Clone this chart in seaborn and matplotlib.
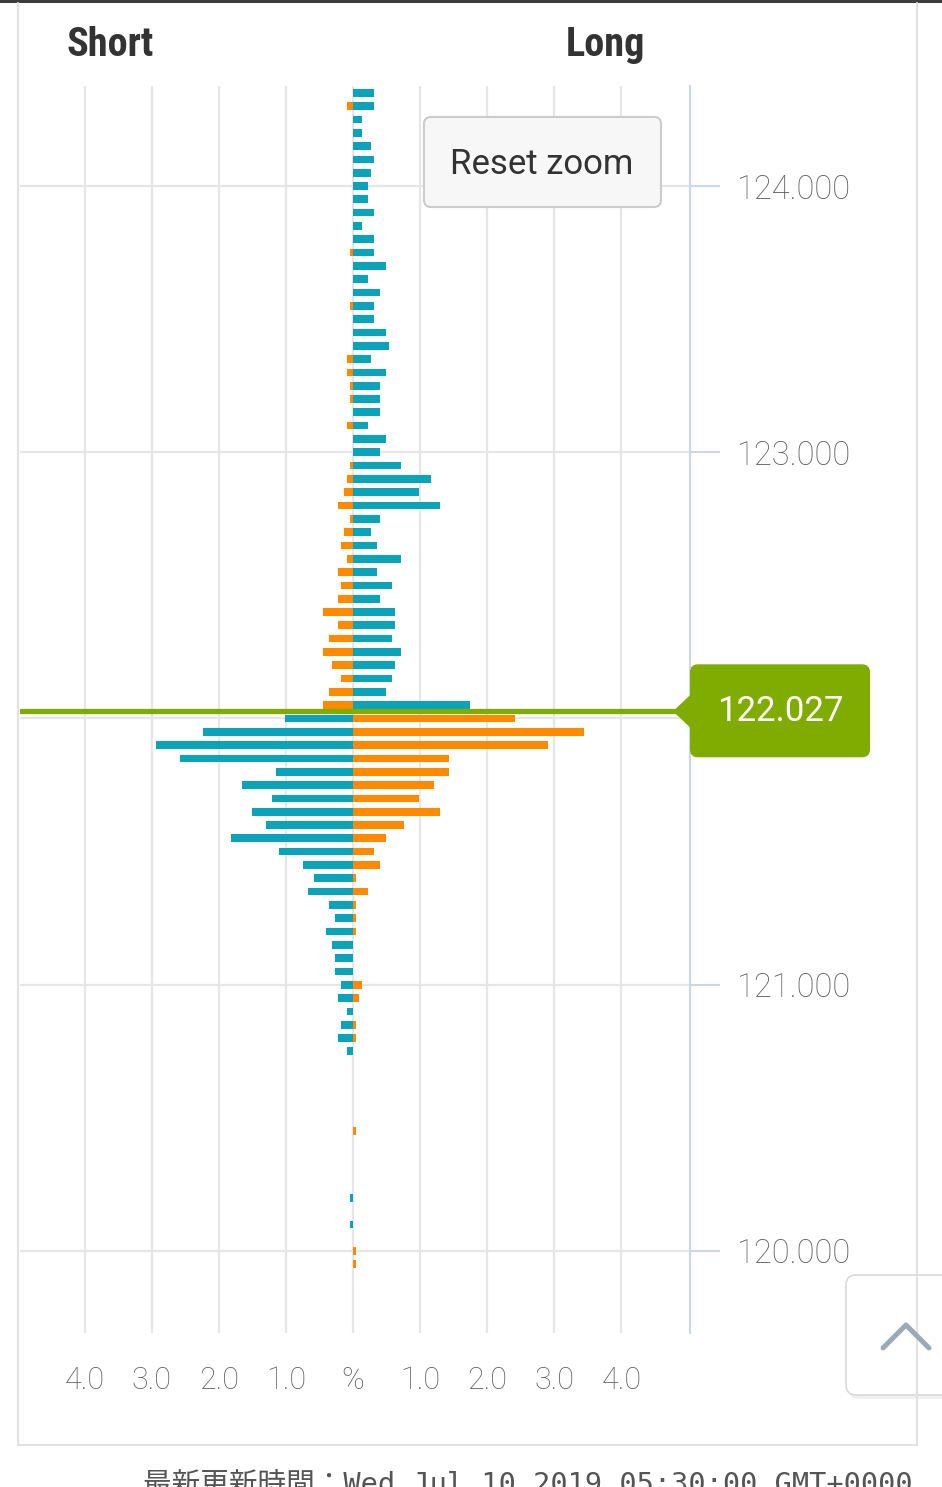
import numpy as np
import pandas as pd
import seaborn as sns
import matplotlib.pyplot as plt
from matplotlib.patches import FancyBboxPatch, Polygon, Rectangle
from matplotlib.lines import Line2D
from matplotlib.transforms import IdentityTransform

# position book, % of positions per 0.05 price bucket
current_price = 122.027

# buckets above the current rate (top -> bottom)
upper_prices = [124.35, 124.30, 124.25, 124.20, 124.15, 124.10, 124.05, 124.00,
                123.95, 123.90, 123.85, 123.80, 123.75, 123.70, 123.65, 123.60,
                123.55, 123.50, 123.45, 123.40, 123.35, 123.30, 123.25, 123.20,
                123.15, 123.10, 123.05, 123.00, 122.95, 122.90, 122.85, 122.80,
                122.75, 122.70, 122.65, 122.60, 122.55, 122.50, 122.45, 122.40,
                122.35, 122.30, 122.25, 122.20, 122.15, 122.10, 122.05]
upper_long = [0.31, 0.31, 0.13, 0.13, 0.27, 0.31, 0.27, 0.22, 0.22, 0.31, 0.13, 0.31,
              0.31, 0.49, 0.22, 0.40, 0.31, 0.31, 0.49, 0.53, 0.27, 0.49, 0.40, 0.40,
              0.40, 0.22, 0.49, 0.40, 0.71, 1.16, 0.98, 1.29, 0.40, 0.27, 0.36, 0.71,
              0.36, 0.58, 0.40, 0.62, 0.62, 0.58, 0.71, 0.62, 0.58, 0.49, 1.74]
upper_short = [0, 0.09, 0, 0, 0, 0, 0, 0, 0, 0, 0, 0,
               0.04, 0, 0, 0, 0.04, 0, 0, 0, 0.09, 0.09, 0.04, 0.04,
               0, 0.09, 0, 0, 0.04, 0.09, 0.13, 0.22, 0.04, 0.13, 0.18, 0.09,
               0.22, 0.18, 0.22, 0.45, 0.22, 0.36, 0.45, 0.31, 0.18, 0.36, 0.45]

# buckets below the current rate
lower_prices = [122.00, 121.95, 121.90, 121.85, 121.80, 121.75, 121.70, 121.65,
                121.60, 121.55, 121.50, 121.45, 121.40, 121.35, 121.30, 121.25,
                121.20, 121.15, 121.10, 121.05, 121.00, 120.95, 120.90, 120.85,
                120.80, 120.75, 120.45, 120.20, 120.10, 120.00, 119.95]
lower_short = [1.02, 2.23, 2.94, 2.58, 1.15, 1.65, 1.20, 1.51, 1.29, 1.82, 1.11, 0.75,
               0.58, 0.67, 0.36, 0.27, 0.40, 0.31, 0.27, 0.27, 0.18, 0.22, 0.09, 0.18,
               0.22, 0.09, 0, 0.04, 0.04, 0, 0]
lower_long = [2.42, 3.44, 2.91, 1.43, 1.43, 1.21, 0.98, 1.29, 0.76, 0.49, 0.31, 0.40,
              0.04, 0.22, 0.04, 0.04, 0.04, 0, 0, 0, 0.13, 0.09, 0, 0.04,
              0.04, 0, 0.04, 0, 0, 0.04, 0.04]

x_ticks = [-4, -3, -2, -1, 0, 1, 2, 3, 4]
x_labels = ['4.0', '3.0', '2.0', '1.0', '%', '1.0', '2.0', '3.0', '4.0']
y_ticks = [120, 121, 122, 123, 124]
# 122.000 sits under the current-price flag
y_labels = ['120.000', '121.000', '', '123.000', '124.000']

TEAL = '#0aa3b9'
ORANGE = '#ff8a00'
GREEN = '#80ab00'

rows = []
for p, v in zip(upper_prices, upper_long):
    if v:
        rows.append((p, v, 'loss'))
for p, v in zip(upper_prices, upper_short):
    if v:
        rows.append((p, -v, 'profit'))
for p, v in zip(lower_prices, lower_short):
    if v:
        rows.append((p, -v, 'loss'))
for p, v in zip(lower_prices, lower_long):
    if v:
        rows.append((p, v, 'profit'))
df = pd.DataFrame(rows, columns=['price', 'pct', 'status'])
df['price'] = df['price'].round(2)

sns.set_theme(style='white')
plt.rcParams['font.family'] = ['Roboto', 'DejaVu Sans']

W, H = 942, 1487
fig = plt.figure(figsize=(W / 100, H / 100), dpi=100)
fig.patch.set_facecolor('white')
ax = fig.add_axes([20 / W, 1 - 1333 / H, 670 / W, (1333 - 86) / H])

sns.barplot(data=df, x='pct', y='price', hue='status', orient='h',
            native_scale=True, dodge=False, width=0.58, errorbar=None,
            palette={'loss': TEAL, 'profit': ORANGE}, saturation=1,
            linewidth=0, legend=False, ax=ax)

ax.axhline(current_price, color=GREEN, lw=3.8, zorder=6)

ax.set_xlim(-4.963, 5.022)
ax.set_ylim(119.692, 124.3756)
ax.set_xlabel('')
ax.set_ylabel('')
ax.set_xticks(x_ticks)
ax.set_xticklabels(x_labels, fontsize=22, color='#5e5e5e', fontweight='light')
ax.yaxis.tick_right()
ax.set_yticks(y_ticks)
ax.set_yticklabels(y_labels, fontsize=23.5, color='#5e5e5e', fontweight='light')
ax.tick_params(axis='x', length=0, pad=24)
ax.tick_params(axis='y', length=21.6, width=1.5, color='#ccd6eb', pad=11.5)
ax.grid(True, color='#e6e6e6', linewidth=1.6)
ax.set_axisbelow(True)
for side in ['top', 'left', 'bottom']:
    ax.spines[side].set_visible(False)
ax.spines['right'].set_color('#ccd6eb')
ax.spines['right'].set_linewidth(1.5)

ident = IdentityTransform()


def rbox(x0, y0, x1, y1, r, **kw):
    # rectangle given in top-left pixel coordinates
    return FancyBboxPatch((x0, H - y1), x1 - x0, y1 - y0,
                          boxstyle=f'round,pad=0,rounding_size={r}',
                          transform=ident, **kw)


# page frame
fig.add_artist(Rectangle((0, H - 3), W, 3, fc='#3c3c3c', ec='none', transform=ident))
for xs, ys in [([18, 18], [3, 1445]), ([917, 917], [3, 1445]), ([18, 917], [1445, 1445])]:
    fig.add_artist(Line2D(xs, [H - y for y in ys], color='#e2e2e2', lw=1.5, transform=ident))

head_font = ['Roboto Condensed', 'Open Sans Condensed', 'Liberation Sans Narrow', 'Roboto']
fig.text(66 / W, 1 - 45 / H, 'Short', ha='left', va='center', fontsize=29,
         fontweight='bold', color='#333333', family=head_font, fontstretch='condensed')
fig.text(645 / W, 1 - 45 / H, 'Long', ha='right', va='center', fontsize=29,
         fontweight='bold', color='#333333', family=head_font, fontstretch='condensed')

# reset zoom button
fig.add_artist(rbox(424, 117, 661, 207, 7, fc='#f7f7f7', ec='#cccccc', lw=1.5))
fig.text(542 / W, 1 - 164 / H, 'Reset zoom', ha='center', va='center',
         fontsize=25, color='#333333')

# current price label
ax_right, py = ax.transData.transform((ax.get_xlim()[1], current_price))
fig.add_artist(Polygon([(ax_right - 17, py), (ax_right + 2, py + 18), (ax_right + 2, py - 18)],
                       closed=True, fc=GREEN, ec='none', transform=ident))
fig.add_artist(FancyBboxPatch((ax_right, py - 46), 180, 93,
                              boxstyle='round,pad=0,rounding_size=8',
                              fc=GREEN, ec='none', transform=ident))
fig.text(ax_right + 90, py, f'{current_price:.3f}', ha='center', va='center',
         fontsize=25, color='white', transform=ident)

# scroll-to-top button
fig.add_artist(rbox(849, 1279, 965, 1399, 10, fc='#000000', ec='none', alpha=0.06))
fig.add_artist(rbox(846, 1275, 962, 1395, 10, fc='white', ec='#d9d9d9', lw=1.2))
fig.add_artist(Line2D([883, 906, 929], [H - 1348, H - 1325, H - 1348],
                      color='#9aaab6', lw=3.6, transform=ident))

fig.text(143 / W, 1 - 1471 / H, '最新更新時間：Wed Jul 10 2019 05:30:00 GMT+0000',
         ha='left', va='top', fontsize=20.6, color='#555555',
         family=['DejaVu Sans Mono', 'Noto Sans CJK JP'])

fig.savefig('out.png', dpi=100, facecolor='white')
